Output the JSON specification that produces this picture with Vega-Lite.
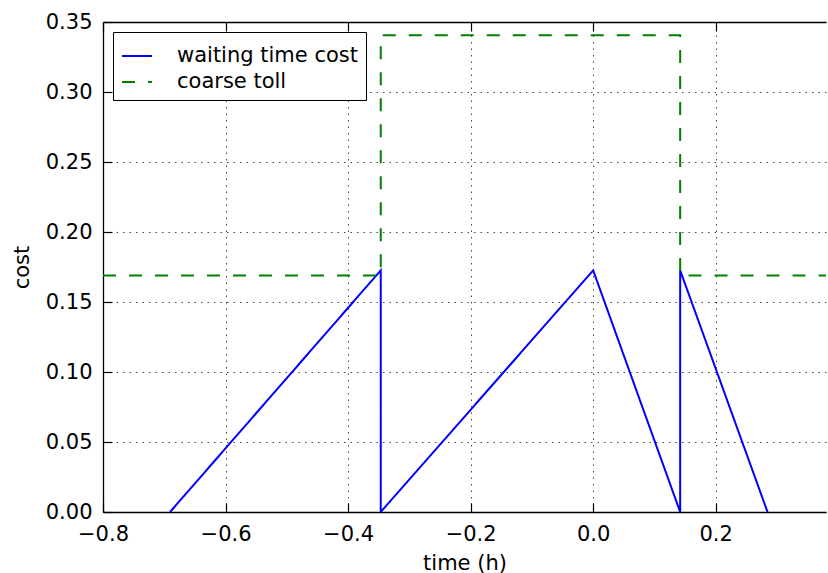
{
  "$schema": "https://vega.github.io/schema/vega-lite/v6.json",
  "width": 723,
  "height": 490,
  "autosize": {"type": "none"},
  "padding": {"left": 103, "top": 22, "right": 2, "bottom": 61},
  "background": "white",
  "config": {
    "view": {"stroke": null},
    "font": "DejaVu Sans",
    "axis": {
      "domainColor": "black",
      "domainWidth": 1.3,
      "tickColor": "black",
      "tickSize": -9,
      "tickWidth": 1.2,
      "labelFlush": false,
      "labelFont": "DejaVu Sans",
      "labelFontSize": 21,
      "labelColor": "black",
      "titleFont": "DejaVu Sans",
      "titleFontSize": 21,
      "titleFontWeight": "normal",
      "titleColor": "black",
      "gridColor": "#333",
      "gridDash": [1.5, 5],
      "gridWidth": 1,
      "gridOpacity": 0.9
    },
    "legend": {
      "labelFont": "DejaVu Sans",
      "labelFontSize": 21,
      "labelColor": "black",
      "labelLimit": 0
    }
  },
  "data": {
    "values": [
      {"series": "waiting time cost", "i": 0, "t": -0.6906, "cost": 0},
      {"series": "waiting time cost", "i": 1, "t": -0.3467, "cost": 0.1726},
      {"series": "waiting time cost", "i": 2, "t": -0.3467, "cost": 0},
      {"series": "waiting time cost", "i": 3, "t": 0.0, "cost": 0.1726},
      {"series": "waiting time cost", "i": 4, "t": 0.142, "cost": 0},
      {"series": "waiting time cost", "i": 5, "t": 0.142, "cost": 0.1726},
      {"series": "waiting time cost", "i": 6, "t": 0.2846, "cost": 0},
      {"series": "coarse toll", "i": 0, "t": -0.8, "cost": 0.1689},
      {"series": "coarse toll", "i": 1, "t": -0.3467, "cost": 0.1689},
      {"series": "coarse toll", "i": 2, "t": -0.3467, "cost": 0.3405},
      {"series": "coarse toll", "i": 3, "t": 0.142, "cost": 0.3405},
      {"series": "coarse toll", "i": 4, "t": 0.142, "cost": 0.1689},
      {"series": "coarse toll", "i": 5, "t": 0.4, "cost": 0.1689}
    ]
  },
  "encoding": {
    "x": {"field": "t", "type": "quantitative", "scale": {"domain": [-0.8, 0.38], "nice": false, "zero": false}},
    "y": {
      "field": "cost", "type": "quantitative",
      "scale": {"domain": [0, 0.35], "nice": false},
      "axis": {"title": "cost", "values": [0, 0.05, 0.1, 0.15, 0.2, 0.25, 0.3, 0.35], "format": ".2f", "labelPadding": 20, "titlePadding": 13, "grid": true}
    },
    "order": {"field": "i", "type": "quantitative"},
    "color": {
      "field": "series", "type": "nominal",
      "scale": {"domain": ["waiting time cost", "coarse toll"], "range": ["#0000ff", "#008000"]},
      "legend": {
        "title": null, "orient": "none", "legendX": 10, "legendY": 10,
        "symbolType": "stroke", "symbolSize": 900, "symbolStrokeWidth": 1.8,
        "labelOffset": 24, "padding": 8, "strokeColor": "black", "fillColor": "white",
        "cornerRadius": 0, "rowPadding": 0
      }
    },
    "strokeDash": {
      "field": "series", "type": "nominal",
      "scale": {"domain": ["waiting time cost", "coarse toll"], "range": [[1, 0], [13, 13]]},
      "legend": {
        "title": null, "orient": "none", "legendX": 10, "legendY": 10,
        "symbolType": "stroke", "symbolSize": 900, "symbolStrokeWidth": 1.8,
        "labelOffset": 24, "padding": 8, "strokeColor": "black", "fillColor": "white",
        "cornerRadius": 0, "rowPadding": 0
      }
    }
  },
  "layer": [
    {
      "transform": [{"filter": "datum.series === 'waiting time cost'"}],
      "mark": {"type": "line", "strokeWidth": 2, "clip": true},
      "encoding": {
        "x": {"field": "t", "type": "quantitative",
          "axis": {"title": "time (h)", "values": [-0.8, -0.6, -0.4, -0.2, 0, 0.2], "format": ".1f", "orient": "bottom", "labelPadding": 20, "titlePadding": 8, "grid": true}}
      }
    },
    {
      "transform": [{"filter": "datum.series === 'coarse toll'"}],
      "mark": {"type": "line", "strokeWidth": 2, "clip": true},
      "encoding": {
        "x": {"field": "t", "type": "quantitative",
          "axis": {"title": null, "values": [-0.8, -0.6, -0.4, -0.2, 0, 0.2], "orient": "top", "labels": false, "grid": false}}
      }
    }
  ],
  "resolve": {"axis": {"x": "independent"}}
}
